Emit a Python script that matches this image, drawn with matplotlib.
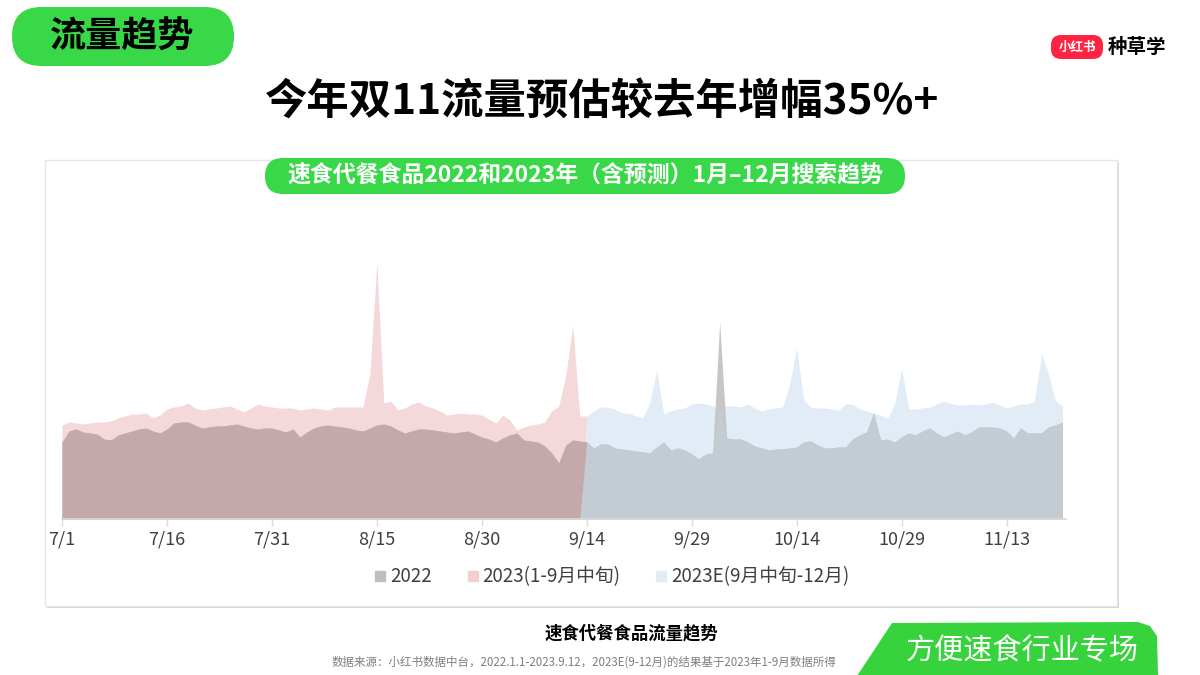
import numpy as np
import matplotlib
matplotlib.use("Agg")
import matplotlib.pyplot as plt
from matplotlib.patches import FancyBboxPatch, Rectangle, Polygon
from matplotlib.lines import Line2D

plt.rcParams['font.family'] = ['Noto Sans CJK SC', 'DejaVu Sans']

# --- data (search index; x = days since 7/1) ---
tick_days = [0, 15, 30, 45, 60, 75, 90, 105, 120, 135]
tick_labels = ['7/1', '7/16', '7/31', '8/15', '8/30', '9/14', '9/29', '10/14', '10/29', '11/13']

vals_2022 = [77, 88, 90, 87, 86, 85, 80, 79, 84, 86, 88, 90, 91, 88, 86, 90, 96, 97, 97, 94,
             91, 92, 93, 93, 94, 95, 93, 91, 90, 91, 91, 89, 87, 90, 82, 87, 91, 93, 94, 93,
             92, 91, 89, 88, 91, 94, 95, 93, 89, 86, 88, 90, 90, 89, 88, 87, 86, 87, 88, 85,
             82, 80, 77, 81, 84, 86, 79, 78, 77, 73, 66, 56, 74, 79, 78, 77, 71, 75, 75, 71,
             70, 69, 68, 67, 66, 72, 77, 69, 71, 69, 65, 60, 65, 66, 197, 81, 80, 80, 77, 73,
             71, 69, 70, 70, 71, 72, 77, 78, 74, 71, 71, 72, 72, 80, 84, 87, 106, 79, 80, 77,
             82, 86, 84, 88, 91, 86, 82, 85, 88, 84, 87, 92, 92, 92, 91, 88, 81, 91, 86, 86,
             86, 92, 94, 97]

vals_2023 = [94, 97, 96, 95, 96, 97, 97, 98, 101, 103, 105, 105, 106, 101, 104, 110, 112, 113, 116, 111,
             109, 110, 111, 112, 113, 110, 107, 111, 115, 113, 112, 111, 111, 111, 109, 110, 111, 110, 109, 112,
             112, 112, 112, 112, 145, 257, 116, 118, 109, 111, 115, 117, 113, 111, 108, 104, 105, 106, 105, 105,
             104, 100, 96, 104, 99, 89, 92, 94, 95, 97, 108, 113, 143, 194, 103, 103, 0]

vals_2023e = [0, 103, 108, 112, 112, 110, 106, 106, 103, 101, 116, 149, 105, 108, 110, 111, 115, 116, 115, 113,
              113, 113, 113, 112, 115, 111, 108, 110, 111, 112, 135, 171, 119, 112, 111, 111, 110, 109, 115, 115,
              110, 108, 106, 104, 101, 115, 151, 110, 110, 111, 112, 115, 118, 116, 114, 114, 115, 114, 115, 117,
              114, 111, 113, 115, 115, 118, 165, 145, 118, 113]

days_2022 = np.arange(len(vals_2022))
days_2023 = np.arange(len(vals_2023))
days_2023e = np.arange(74, 74 + len(vals_2023e))

legend_labels = ['2022', '2023(1-9月中旬)', '2023E(9月中旬-12月)']

c_gray = '#c6c6c6'
c_pink = '#f5d9da'
c_blue = '#e2ecf6'
c_pink_over = '#c4a8aa'
c_blue_over = '#c3cbd3'
green = '#38d848'

fig = plt.figure(figsize=(12, 6.75), dpi=100)

# background layer in pixel coordinates
bg = fig.add_axes([0, 0, 1, 1], zorder=0)
bg.set_xlim(0, 1200)
bg.set_ylim(675, 0)
bg.axis('off')

# chart frame with a faint shadow
bg.add_patch(Rectangle((47, 162), 1072, 446, facecolor='#d4d4d4', edgecolor='none'))
bg.add_patch(Rectangle((45, 160), 1072, 446, facecolor='white', edgecolor='#e6e6e6', lw=1))

# top-left pill
bg.add_patch(FancyBboxPatch((12, 7), 222, 59, boxstyle='round,pad=0,rounding_size=29.5',
                            facecolor=green, edgecolor='none'))
bg.text(122, 37, '流量趋势', fontsize=26, fontweight='bold', ha='center', va='center', color='black')

# logo
bg.add_patch(FancyBboxPatch((1051, 35), 52, 24, boxstyle='round,pad=0,rounding_size=10',
                            facecolor='#ff2442', edgecolor='none'))
bg.text(1077, 47.5, '小红书', fontsize=9, fontweight='bold', color='white', ha='center', va='center')
bg.text(1137, 47.5, '种草学', fontsize=14, fontweight='bold', color='black', ha='center', va='center')

# main title
bg.text(602, 103, '今年双11流量预估较去年增幅35%+', fontsize=30.5, fontweight='bold',
        ha='center', va='center', color='black')

# subtitle pill
bg.add_patch(FancyBboxPatch((265, 158), 640, 36, boxstyle='round,pad=0,rounding_size=18',
                            facecolor=green, edgecolor='none', zorder=3))
bg.text(585, 176, '速食代餐食品2022和2023年（含预测）1月–12月搜索趋势', fontsize=16.5,
        fontweight='bold', ha='center', va='center', color='white', zorder=4)

# bottom captions
bg.text(631, 633, '速食代餐食品流量趋势', fontsize=12.5, fontweight='bold', ha='center', va='center', color='black')
bg.text(584, 662, '数据来源：小红书数据中台，2022.1.1-2023.9.12，2023E(9-12月)的结果基于2023年1-9月数据所得',
        fontsize=8.3, ha='center', va='center', color='#7f7f7f')

# bottom-right tab
bg.add_patch(Polygon([(857, 676), (892, 623), (1138, 622), (1150, 626), (1157, 636), (1158, 676)],
                     closed=True, facecolor='#36d33c', edgecolor='none'))
bg.text(1022, 651, '方便速食行业专场', fontsize=21, ha='center', va='center', color='white')

# area chart
ax = fig.add_axes([62 / 1200, 1 - 519 / 675, (1066 - 62) / 1200, (519 - 220) / 675], zorder=1)
ax.patch.set_alpha(0)

ax.fill_between(days_2023, 0, vals_2023, color=c_pink, lw=0)
ax.fill_between(days_2023e, 0, vals_2023e, color=c_blue, lw=0)
ax.fill_between(days_2022, 0, vals_2022, color=c_gray, lw=0)
g = np.array(vals_2022)
ax.fill_between(days_2023, 0, np.minimum(g[days_2023], vals_2023), color=c_pink_over, lw=0)
ax.fill_between(days_2023e, 0, np.minimum(g[days_2023e], vals_2023e), color=c_blue_over, lw=0)

ax.set_xlim(0, 143.5)
ax.set_ylim(0, 299)
for s in ['top', 'right', 'left']:
    ax.spines[s].set_visible(False)
ax.spines['bottom'].set_color('#d9d9d9')
ax.spines['bottom'].set_linewidth(1.2)
ax.set_yticks([])
ax.set_xticks(tick_days)
ax.set_xticklabels(tick_labels, fontsize=13, color='#404040')
ax.tick_params(axis='x', length=5, color='#d9d9d9', width=1, pad=3)

handles = [Line2D([], [], marker='s', ls='none', markersize=7, color=c)
           for c in ['#bfbfbf', '#f2d0d1', '#e3ecf5']]
fig.legend(handles, legend_labels, loc='center', bbox_to_anchor=(611 / 1200, 1 - 577 / 675),
           ncol=3, frameon=False, fontsize=13.5, handletextpad=0.1, columnspacing=1.8,
           handlelength=0.8, labelcolor='#404040')

fig.savefig('out.png', dpi=100)
